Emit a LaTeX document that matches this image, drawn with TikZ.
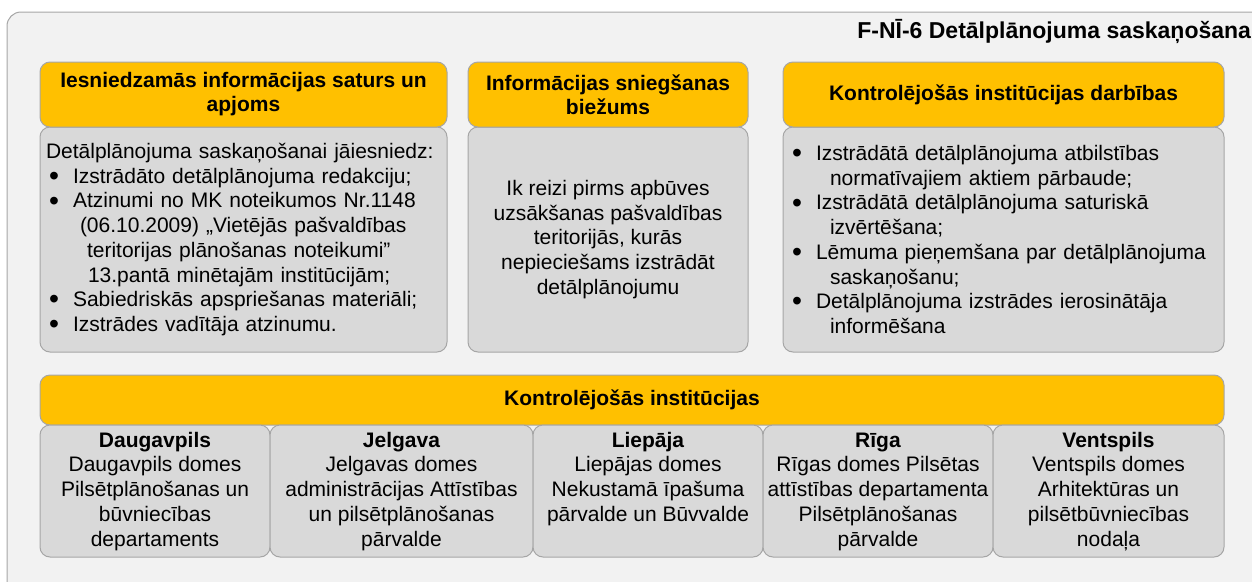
\documentclass[tikz,border=0pt]{standalone}
\usepackage{fontspec}
\setmainfont{Liberation Sans}
\usetikzlibrary{positioning}
\definecolor{amber}{HTML}{FFC000}
\definecolor{panel}{HTML}{D9D9D9}
\definecolor{backdrop}{HTML}{F2F2F2}
\definecolor{edge}{HTML}{A6A6A6}
\newcommand{\bul}{\hspace*{3pt}\makebox[24pt][l]{\smash{\raisebox{-0.1em}{\scalebox{1.35}{\textbullet}}}}}
\tikzset{
every node/.style={font=\fontsize{21}{24.7}\selectfont, inner sep=0pt, outer sep=0pt}, % plain text in all boxes
head/.style={draw=edge, line width=1pt, fill=amber, rounded corners=10pt, align=center,
  font=\fontsize{21}{24}\selectfont\bfseries}, % yellow heading bars
panelbox/.style={draw=edge, line width=1pt, fill=panel, rounded corners=10pt}, % grey content boxes
}

\begin{document}
\begin{tikzpicture}[x=1pt, y=-1pt]
    \useasboundingbox (0,0) rectangle (1252,581);
    \clip (0,0) rectangle (1252,581);
    \draw[draw=edge, line width=1pt, fill=backdrop, rounded corners=14pt] (7,12) rectangle (1275,600);
    \node[anchor=base east, font=\fontsize{23}{26}\selectfont\bfseries] (title) at (1251,38) {F-NĪ-6 Detālplānojuma saskaņošana};

    % upper three columns
    \node[panelbox, anchor=north west, minimum width=407pt, minimum height=225pt,
      inner xsep=6pt, text width=395pt, align=left] (bodyA) at (40,127) {%
      Detālplānojuma saskaņošanai jāiesniedz:\\
      \bul Izstrādāto detālplānojuma redakciju;\\
      \bul Atzinumi no MK noteikumos Nr.1148\\
      \hspace*{34pt}(06.10.2009) „Vietējās pašvaldības\\
      \hspace*{41pt}teritorijas plānošanas noteikumi”\\
      \hspace*{42pt}13.pantā minētajām institūcijām;\\
      \bul Sabiedriskās apspriešanas materiāli;\\
      \bul Izstrādes vadītāja atzinumu.};
    \node[head, minimum width=407pt, minimum height=65pt, above=0pt of bodyA] (hdrA) {Iesniedzamās informācijas saturs un\\apjoms};

    \node[panelbox, anchor=north west, minimum width=280pt, minimum height=225pt, align=center] (bodyB) at (468,127) {%
      Ik reizi pirms apbūves\\ uzsākšanas pašvaldības\\ teritorijās, kurās\\ nepieciešams izstrādāt\\ detālplānojumu};
    \node[head, minimum width=280pt, minimum height=65pt, above=0pt of bodyB] (hdrB) {Informācijas sniegšanas\\biežums};

    \node[panelbox, anchor=north west, minimum width=441pt, minimum height=225pt,
      inner xsep=6pt, text width=429pt, align=left] (bodyC) at (783,127) {%
      \bul Izstrādātā detālplānojuma atbilstības\\
      \hspace*{41pt}normatīvajiem aktiem pārbaude;\\
      \bul Izstrādātā detālplānojuma saturiskā\\
      \hspace*{41pt}izvērtēšana;\\
      \bul Lēmuma pieņemšana par detālplānojuma\\
      \hspace*{41pt}saskaņošanu;\\
      \bul Detālplānojuma izstrādes ierosinātāja\\
      \hspace*{41pt}informēšana};
    \node[head, minimum width=441pt, minimum height=65pt, above=0pt of bodyC] (hdrC) {Kontrolējošās institūcijas darbības};

    % lower row of institutions
    \node[head, anchor=north west, minimum width=1184pt, minimum height=50pt] (bar) at (40,375) {Kontrolējošās institūcijas};
    \node[panelbox, anchor=north west, minimum width=230pt, minimum height=132pt] (dgp) at (40,425) {};
    \node[panelbox, minimum width=263pt, minimum height=132pt, right=0pt of dgp] (jlg) {};
    \node[panelbox, minimum width=230pt, minimum height=132pt, right=0pt of jlg] (lpj) {};
    \node[panelbox, minimum width=230pt, minimum height=132pt, right=0pt of lpj] (rga) {};
    \node[panelbox, minimum width=231pt, minimum height=132pt, right=0pt of rga] (vsp) {};

    \node[anchor=north, align=center, yshift=-5pt] (dgpT) at (dgp.north) {\strut\textbf{Daugavpils}\\Daugavpils domes\\Pilsētplānošanas un\\būvniecības\\departaments};
    \node[anchor=north, align=center, yshift=-5pt] (jlgT) at (jlg.north) {\strut\textbf{Jelgava}\\Jelgavas domes\\administrācijas Attīstības\\un pilsētplānošanas\\pārvalde};
    \node[anchor=north, align=center, yshift=-5pt] (lpjT) at (lpj.north) {\strut\textbf{Liepāja}\\Liepājas domes\\Nekustamā īpašuma\\pārvalde un Būvvalde};
    \node[anchor=north, align=center, yshift=-5pt] (rgaT) at (rga.north) {\strut\textbf{Rīga}\\Rīgas domes Pilsētas\\attīstības departamenta\\Pilsētplānošanas\\pārvalde};
    \node[anchor=north, align=center, yshift=-5pt] (vspT) at (vsp.north) {\strut\textbf{Ventspils}\\Ventspils domes\\Arhitektūras un\\pilsētbūvniecības\\nodaļa};
\end{tikzpicture}
\end{document}
